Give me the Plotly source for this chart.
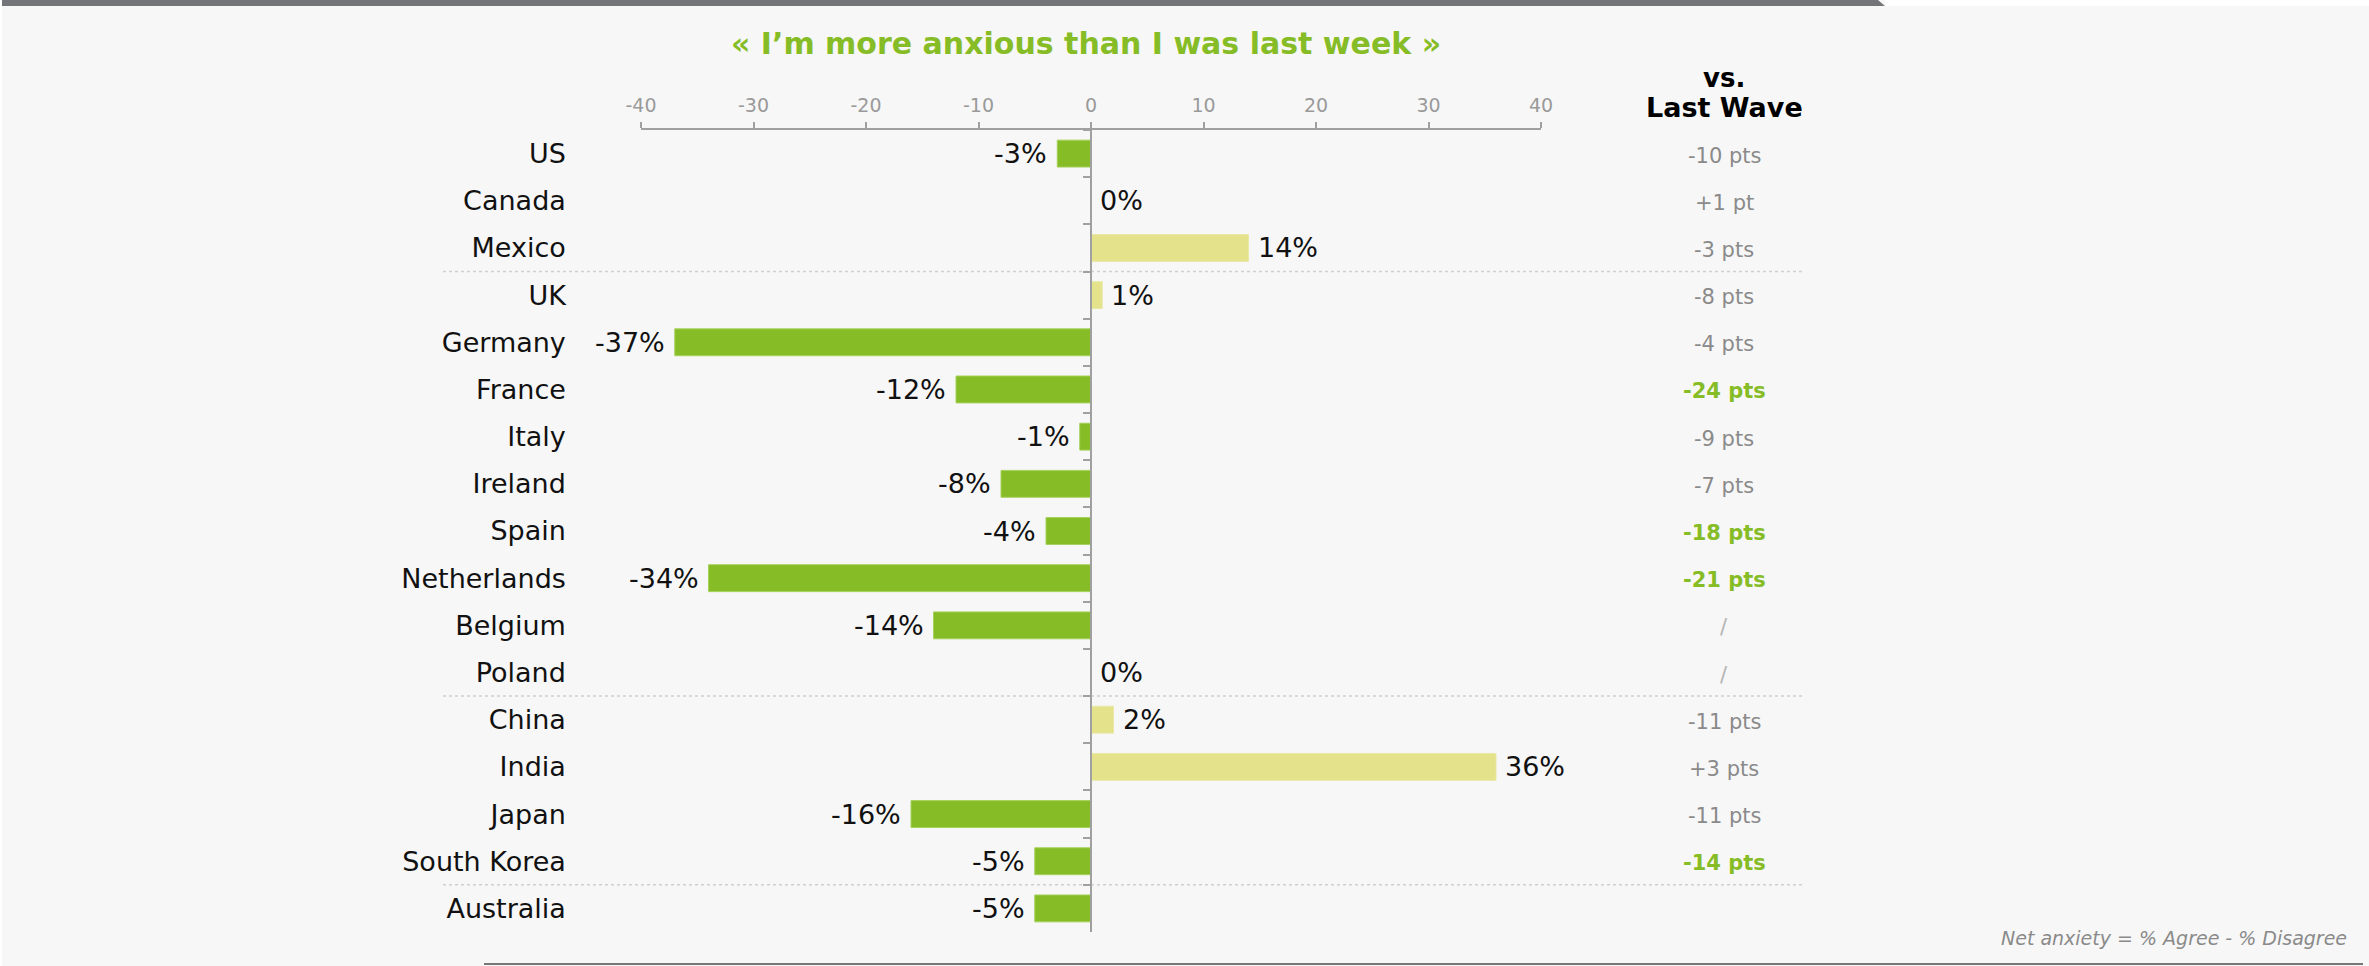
import plotly.graph_objects as go

# Net anxiety by country (% agree - % disagree)
countries = ["US", "Canada", "Mexico", "UK", "Germany", "France", "Italy", "Ireland",
             "Spain", "Netherlands", "Belgium", "Poland", "China", "India", "Japan",
             "South Korea", "Australia"]
net_anxiety = [-3, 0, 14, 1, -37, -12, -1, -8, -4, -34, -14, 0, 2, 36, -16, -5, -5]

# Change versus the previous wave, and whether it is flagged as significant
vs_last_wave = ["-10 pts", "+1 pt", "-3 pts", "-8 pts", "-4 pts", "-24 pts", "-9 pts",
                "-7 pts", "-18 pts", "-21 pts", "/", "/", "-11 pts", "+3 pts",
                "-11 pts", "-14 pts", ""]
significant = [False, False, False, False, False, True, False, False, True, True,
               False, False, False, False, False, True, False]

# Regions end after these rows (Mexico, Poland, South Korea)
group_ends = ["Mexico", "Poland", "South Korea"]

x_ticks = [-40, -30, -20, -10, 0, 10, 20, 30, 40]

W, H = 2369, 966
ML, MR, MT, MB = 641, 828, 130, 34
PW, PH = W - ML - MR, H - MT - MB

FONT = "Verdana, DejaVu Sans, sans-serif"
GREEN = "#86bc25"
YELLOW = "#e4e38c"
GREY_TXT = "#8a8a8a"
AXIS = "#a0a0a0"


def px_x(p):
    return (p - ML) / PW


def px_y(p):
    return (H - MB - p) / PH


bar_colors = [GREEN if v < 0 else YELLOW for v in net_anxiety]
line_colors = ["#a6d15c" if v < 0 else "#e9e8a6" for v in net_anxiety]

fig = go.Figure()
fig.add_trace(go.Bar(
    x=net_anxiety, y=countries, orientation="h", width=0.57,
    marker=dict(color=bar_colors, line=dict(color=line_colors, width=1)),
    hoverinfo="skip", showlegend=False,
))

annotations = []
# value labels at the end of each bar
for c, v in zip(countries, net_anxiety):
    annotations.append(dict(
        x=v, y=c, xref="x", yref="y", text=f"{v}%", showarrow=False,
        xanchor="right" if v < 0 else "left", xshift=-8 if v < 0 else 7,
        font=dict(family=FONT, size=27, color="#111111"),
    ))

# right-hand column: change vs last wave
for c, t, s in zip(countries, vs_last_wave, significant):
    if not t:
        continue
    if s:
        txt, col = f"<b>{t}</b>", GREEN
    elif t == "/":
        txt, col = t, "#b4b4b4"
    else:
        txt, col = t, GREY_TXT
    annotations.append(dict(
        x=px_x(1724), y=c, xref="paper", yref="y", text=txt, showarrow=False,
        xanchor="center", yshift=-2, font=dict(family=FONT, size=21, color=col),
    ))

annotations += [
    dict(x=px_x(1724), y=px_y(78), xref="paper", yref="paper", text="<b>vs.</b>",
         showarrow=False, xanchor="center", yanchor="middle",
         font=dict(family=FONT, size=26, color="#000000")),
    dict(x=px_x(1724), y=px_y(107), xref="paper", yref="paper", text="<b>Last Wave</b>",
         showarrow=False, xanchor="center", yanchor="middle",
         font=dict(family=FONT, size=27, color="#000000")),
    dict(x=px_x(1086), y=px_y(44), xref="paper", yref="paper",
         text="<b>« I’m more anxious than I was last week »</b>",
         showarrow=False, xanchor="center", yanchor="middle",
         font=dict(family=FONT, size=30, color=GREEN)),
    dict(x=px_x(2349), y=px_y(938), xref="paper", yref="paper",
         text="<i>Net anxiety = % Agree - % Disagree</i>",
         showarrow=False, xanchor="right", yanchor="middle",
         font=dict(family=FONT, size=19, color=GREY_TXT)),
]

shapes = []
# dotted separators between regions
for g in group_ends:
    yb = countries.index(g) + 0.5
    shapes.append(dict(type="line", xref="paper", yref="y", x0=px_x(443), x1=px_x(1802),
                       y0=yb, y1=yb, line=dict(color="#cfcfcf", width=1.5, dash="dot"),
                       layer="below"))

# page frame: top band, white corner, left strip, bottom rule
shapes += [
    dict(type="path", xref="paper", yref="paper", fillcolor="#737578", line=dict(width=0),
         path=f"M {px_x(0)},{px_y(0)} L {px_x(1878)},{px_y(0)} L {px_x(1885)},{px_y(6)} "
              f"L {px_x(0)},{px_y(6)} Z"),
    dict(type="rect", xref="paper", yref="paper", x0=px_x(1885), x1=px_x(W), y0=px_y(0),
         y1=px_y(6), fillcolor="#ffffff", line=dict(width=0)),
    dict(type="rect", xref="paper", yref="paper", x0=px_x(0), x1=px_x(2), y0=px_y(0),
         y1=px_y(H), fillcolor="#ffffff", line=dict(width=0)),
    dict(type="line", xref="paper", yref="paper", x0=px_x(484), x1=px_x(2363),
         y0=px_y(964), y1=px_y(964), line=dict(color="#777777", width=2)),
]

fig.update_layout(
    width=W, height=H,
    margin=dict(l=ML, r=MR, t=MT, b=MB, pad=0),
    paper_bgcolor="#f7f7f7", plot_bgcolor="#f7f7f7",
    font=dict(family=FONT),
    hovermode=False,
    bargap=0.4,
    xaxis=dict(
        range=[-40, 40], side="top", tickvals=x_ticks, ticktext=[str(t) for t in x_ticks],
        showline=True, linecolor=AXIS, linewidth=1.5, ticks="outside", ticklen=6,
        tickcolor=AXIS, tickwidth=1.5, tickfont=dict(family=FONT, size=19, color="#9a9a9a"),
        ticklabelstandoff=3,
        showgrid=False, zeroline=False, fixedrange=True,
    ),
    yaxis=dict(
        type="category", categoryorder="array", categoryarray=countries,
        range=[len(countries) - 0.5, -0.5], anchor="free", position=0.5,
        showline=True, linecolor=AXIS, linewidth=1.5, ticks="outside", ticklen=7,
        tickcolor=AXIS, tickwidth=1.5, tickson="boundaries", ticklabelstandoff=519,
        tickfont=dict(family=FONT, size=27, color="#111111"),
        showgrid=False, zeroline=False, fixedrange=True,
    ),
    annotations=annotations,
    shapes=shapes,
)

fig.write_html("out.html")
